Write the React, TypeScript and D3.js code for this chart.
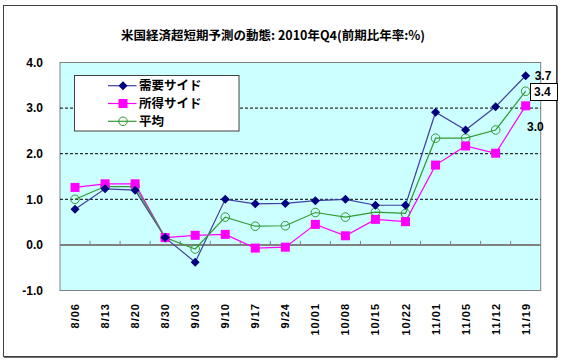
import React from "react";
import * as d3 from "d3";

const title = "米国経済超短期予測の動態: 2010年Q4(前期比年率:%)";
const categories = ["8/06", "8/13", "8/20", "8/30", "9/03", "9/10", "9/17", "9/24", "10/01", "10/08", "10/15", "10/22", "11/01", "11/05", "11/12", "11/19"];
const demand = [0.78, 1.23, 1.2, 0.16, -0.38, 1.0, 0.9, 0.91, 0.97, 1.0, 0.87, 0.87, 2.91, 2.52, 3.03, 3.71];
const income = [1.26, 1.34, 1.34, 0.16, 0.21, 0.23, -0.07, -0.05, 0.45, 0.2, 0.56, 0.51, 1.75, 2.17, 2.01, 3.05];
const average = [1.0, 1.28, 1.28, 0.16, -0.09, 0.61, 0.41, 0.42, 0.71, 0.61, 0.72, 0.69, 2.34, 2.34, 2.52, 3.37];
const seriesNames = ["需要サイド", "所得サイド", "平均"];
const yTicks = [-1, 0, 1, 2, 3, 4];
const endLabels = ["3.7", "3.4", "3.0"];

export default function App() {
  const W = 564, H = 360;
  const L = 60, R = 540.7, T = 62.5, B = 290.5;
  const x = d3.scaleBand<string>().domain(categories).range([L, R]);
  const y = d3.scaleLinear().domain([-1, 4]).range([B, T]);
  const cx = (c: string) => (x(c) as number) + x.bandwidth() / 2;
  const line = d3.line<number>().x((_, i) => cx(categories[i])).y((v) => y(v));
  const font = "'Liberation Sans', Arial, sans-serif";
  const cjk = "'Noto Sans CJK JP', sans-serif";
  const demandColor = "#000080";
  const demandLine = "#3f3f9f";
  const incomeColor = "#ff00ff";
  const avgColor = "#339933";

  const diamond = (px: number, py: number, key: any) => (
    <path key={key} d={`M${px},${py - 4.5}L${px + 4.5},${py}L${px},${py + 4.5}L${px - 4.5},${py}Z`} fill={demandColor} />
  );
  const square = (px: number, py: number, key: any) => (
    <rect key={key} x={px - 4.5} y={py - 4.5} width={9} height={9} fill={incomeColor} />
  );
  const circle = (px: number, py: number, key: any) => (
    <circle key={key} cx={px} cy={py} r={4.3} fill="none" stroke={avgColor} strokeWidth={1} />
  );

  const lastX = cx(categories[categories.length - 1]);

  return (
    <svg width={W} height={H} style={{ position: "absolute", left: 0, top: 0, display: "block" }}>
      <rect x={0} y={0} width={W} height={H} fill="#fff" />
      <rect x={3.5} y={5.5} width={553} height={351} fill="#fff" stroke="#404040" strokeWidth={1} />
      <line x1={557} y1={6} x2={557} y2={357} stroke="#404040" strokeWidth={1.5} />
      <line x1={4} y1={357} x2={557} y2={357} stroke="#404040" strokeWidth={1.5} />
      <text x={273} y={40} textAnchor="middle" fontFamily={cjk} fontWeight="bold" fontSize={12.5} fill="#000">{title}</text>

      <rect x={L} y={T} width={R - L} height={B - T} fill="#ccffff" stroke="#808080" strokeWidth={1} />
      {[1, 2, 3].map((v) => (
        <line key={v} x1={L} x2={R} y1={y(v)} y2={y(v)} stroke="#000" strokeDasharray="3,2" strokeWidth={1} />
      ))}
      <line x1={L} x2={R} y1={y(0)} y2={y(0)} stroke="#808080" strokeWidth={2} />
      {categories.slice(1).map((c) => (
        <line key={c} x1={x(c) as number} x2={x(c) as number} y1={y(0) - 4} y2={y(0)} stroke="#808080" strokeWidth={1} />
      ))}

      {yTicks.map((v) => (
        <text key={v} x={43} y={y(v)} dy="0.36em" textAnchor="end" fontFamily={font} fontWeight="bold" fontSize={12} fill="#000">{v.toFixed(1)}</text>
      ))}
      {categories.map((c) => (
        <text key={c} transform={`translate(${cx(c) + 4},${303}) rotate(-90)`} textAnchor="end" fontFamily={font} fontWeight="bold" fontSize={11} letterSpacing={1} fill="#000">{c}</text>
      ))}

      <path d={line(demand) as string} fill="none" stroke={demandLine} strokeWidth={1.2} />
      <path d={line(income) as string} fill="none" stroke={incomeColor} strokeWidth={1.2} />
      <path d={line(average) as string} fill="none" stroke={avgColor} strokeWidth={1.2} />
      {average.map((v, i) => circle(cx(categories[i]), y(v), "a" + i))}
      {income.map((v, i) => square(cx(categories[i]), y(v), "i" + i))}
      {demand.map((v, i) => diamond(cx(categories[i]), y(v), "d" + i))}

      <text x={lastX + 9} y={y(demand[15])} dy="0.36em" fontFamily={font} fontWeight="bold" fontSize={12} fill="#000">{endLabels[0]}</text>
      <rect x={530.5} y={83.5} width={27} height={17} fill="#fff" stroke="#000" strokeWidth={1} />
      <text x={534} y={92} dy="0.36em" fontFamily={font} fontWeight="bold" fontSize={12} fill="#000">{endLabels[1]}</text>
      <text x={527} y={127} dy="0.36em" fontFamily={font} fontWeight="bold" fontSize={12} fill="#000">{endLabels[2]}</text>

      <rect x={74.5} y={75.5} width={164.5} height={55.5} fill="#fff" stroke="#404040" strokeWidth={1} />
      {seriesNames.map((n, i) => {
        const ly = 85.7 + i * 17.8;
        const col = i === 0 ? demandLine : i === 1 ? incomeColor : avgColor;
        return (
          <g key={n}>
            <line x1={108} x2={136.5} y1={ly} y2={ly} stroke={col} strokeWidth={1.2} />
            {i === 0 ? diamond(123, ly, "ld") : i === 1 ? square(123, ly, "ls") : circle(123, ly, "lc")}
            <text x={139} y={ly} dy="0.36em" fontFamily={cjk} fontWeight="bold" fontSize={12.5} fill="#000">{n}</text>
          </g>
        );
      })}
    </svg>
  );
}
